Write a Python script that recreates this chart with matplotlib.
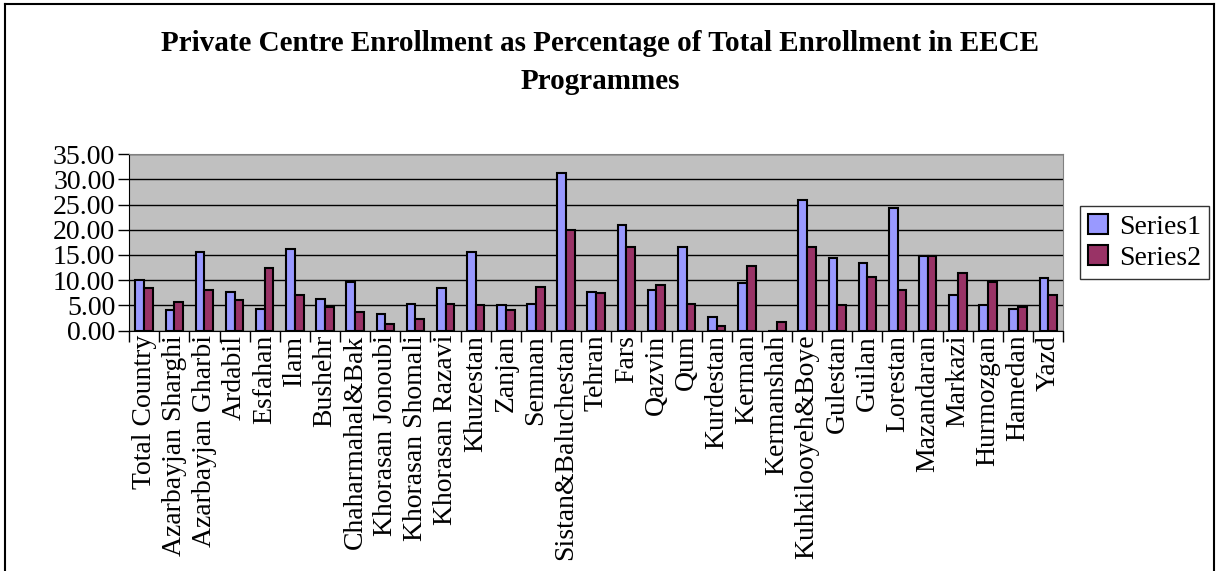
import numpy as np
import matplotlib.pyplot as plt
from matplotlib.lines import Line2D

plt.rcParams['font.family'] = ['Liberation Serif', 'DejaVu Serif']

# data
provinces = ['Total Country', 'Azarbayjan Sharghi', 'Azarbayjan Gharbi', 'Ardabil', 'Esfahan',
             'Ilam', 'Bushehr', 'Chaharmahal&Bak', 'Khorasan Jonoubi', 'Khorasan Shomali',
             'Khorasan Razavi', 'Khuzestan', 'Zanjan', 'Semnan', 'Sistan&Baluchestan',
             'Tehran', 'Fars', 'Qazvin', 'Qum', 'Kurdestan', 'Kerman', 'Kermanshah',
             'Kuhkilooyeh&Boye', 'Gulestan', 'Guilan', 'Lorestan', 'Mazandaran', 'Markazi',
             'Hurmozgan', 'Hamedan', 'Yazd']
series1 = [10.1, 4.0, 15.5, 7.7, 4.3, 16.1, 6.3, 9.7, 3.3, 5.3,
           8.4, 15.5, 5.0, 5.3, 31.3, 7.7, 20.9, 8.1, 16.5, 2.7,
           9.4, 0.0, 26.0, 14.5, 13.5, 24.3, 14.8, 7.1, 5.0, 4.3, 10.4]
series2 = [8.4, 5.7, 8.1, 6.1, 12.4, 7.0, 4.6, 3.7, 1.3, 2.3,
           5.3, 5.0, 4.0, 8.7, 19.9, 7.4, 16.5, 9.1, 5.3, 0.9,
           12.8, 1.7, 16.5, 5.0, 10.7, 8.1, 14.8, 11.5, 9.7, 4.7, 7.0]
yticks = [0, 5, 10, 15, 20, 25, 30, 35]

fig = plt.figure(figsize=(12.18, 5.71), dpi=100)
ax = fig.add_axes([0.106, 0.421, 0.767, 0.309])

x = np.arange(len(provinces))
w = 0.29
ax.bar(x - w / 2, series1, w, color='#9999FF', edgecolor='black', linewidth=1.5, label='Series1', zorder=3)
ax.bar(x + w / 2, series2, w, color='#993366', edgecolor='black', linewidth=1.5, label='Series2', zorder=3)

ax.set_facecolor('#C0C0C0')
ax.set_xlim(-0.5, len(provinces) - 0.5)
ax.set_ylim(0, 35)
ax.set_yticks(yticks)
ax.set_yticklabels([f'{v:.2f}' for v in yticks], fontsize=20)
ax.yaxis.grid(True, color='black', linewidth=1, zorder=0)
ax.set_axisbelow(True)

# labels at centres, tick marks at category boundaries
ax.set_xticks(x)
ax.set_xticklabels(provinces, rotation=90, fontsize=20)
ax.tick_params(axis='x', which='major', length=0, pad=3)
ax.set_xticks(np.arange(-0.5, len(provinces)), minor=True)
ax.tick_params(axis='x', which='minor', length=8, width=1, direction='out')
ax.tick_params(axis='y', length=8, width=1, direction='out', pad=2)

for s in ['top', 'right']:
    ax.spines[s].set_color('#808080')
for s in ['left', 'bottom']:
    ax.spines[s].set_color('black')

fig.text(0.493, 0.948, 'Private Centre Enrollment as Percentage of Total Enrollment in EECE\nProgrammes',
         ha='center', va='top', fontsize=21, fontweight='bold', linespacing=1.55)

ax.legend(loc='center left', bbox_to_anchor=(1.018, 0.5), fontsize=20, frameon=True,
          fancybox=False, edgecolor='black', handlelength=0.7, handleheight=0.7,
          handletextpad=0.4, borderpad=0.3, labelspacing=0.2, borderaxespad=0)

# outer chart border
fig.add_artist(Line2D([0.004, 0.004], [0, 0.993], color='black', linewidth=1.5))
fig.add_artist(Line2D([0.004, 0.997], [0.993, 0.993], color='black', linewidth=1.5))
fig.add_artist(Line2D([0.997, 0.997], [0, 0.993], color='black', linewidth=1.5))

fig.savefig('out.png', dpi=100)
